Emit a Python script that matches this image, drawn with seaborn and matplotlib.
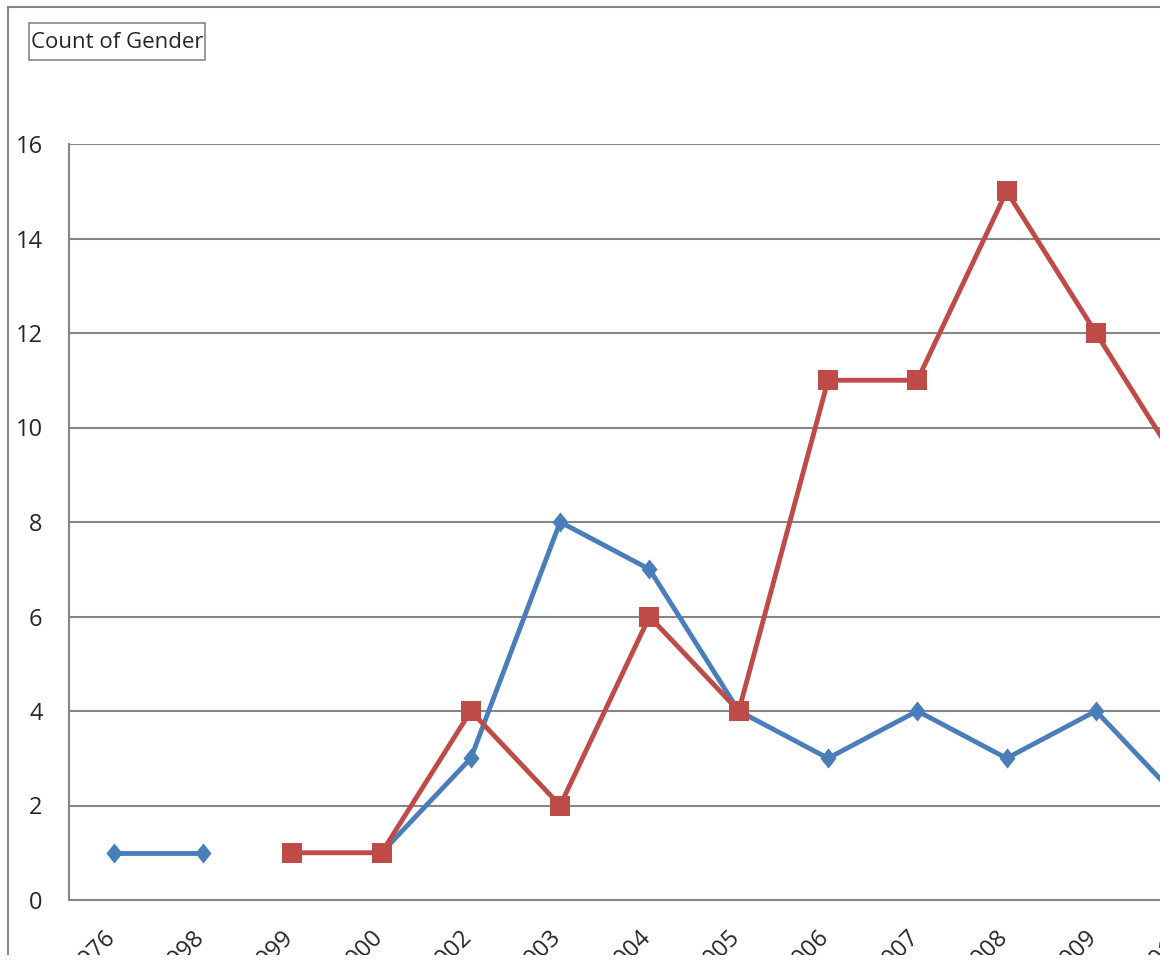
import numpy as np
import pandas as pd
import matplotlib
matplotlib.use("Agg")
import matplotlib.pyplot as plt
from matplotlib.patches import Rectangle
from matplotlib.transforms import ScaledTranslation
import seaborn as sns

# data
years = ["1976", "1998", "1999", "2000", "2002", "2003", "2004",
         "2005", "2006", "2007", "2008", "2009", "2010"]
blue_vals = [1, 1, np.nan, 1, 3, 8, 7, 4, 3, 4, 3, 4, 2]
red_vals = [np.nan, np.nan, 1, 1, 4, 2, 6, 4, 11, 11, 15, 12, 9]
series_names = ["F", "M"]
yticks = [0, 2, 4, 6, 8, 10, 12, 14, 16]

# long form, with a segment id so gaps stay gaps
rows = []
seg = 0
for name, vals in zip(series_names, [blue_vals, red_vals]):
    prev_nan = True
    for i, v in enumerate(vals):
        if np.isnan(v):
            prev_nan = True
            continue
        if prev_nan:
            seg += 1
            prev_nan = False
        rows.append({"pos": i, "count": v, "series": name, "seg": seg})
df = pd.DataFrame(rows)

sns.set_style("white")
plt.rcParams["font.family"] = ["Open Sans", "DejaVu Sans"]

W, H = 1172, 973
fig = plt.figure(figsize=(W / 100, H / 100), dpi=100)
# plot area: x from 69px, 89.3px per category, y0 at 900px, y16 at 144px
left, right, top, bottom = 69, 69 + 13 * 89.3, 144, 900
ax = fig.add_axes([left / W, (H - bottom) / H, (right - left) / W, (bottom - top) / H])

grey = "#868686"
diamond = [(0, 1), (0.8, 0), (0, -1), (-0.8, 0), (0, 1)]
sns.lineplot(data=df, x="pos", y="count", hue="series", style="series",
             units="seg", estimator=None, hue_order=series_names,
             palette={"F": "#4A7EBB", "M": "#BE4B48"},
             markers={"F": diamond, "M": "s"}, dashes=False,
             linewidth=3.5, markersize=14.5, markeredgewidth=0,
             legend=False, ax=ax, zorder=3)

ax.set_xlim(-0.5, 12.5)
ax.set_ylim(0, 16)
ax.set_yticks(yticks)
ax.set_yticklabels([str(t) for t in yticks])
ax.yaxis.grid(True, color=grey, linewidth=1.5)
ax.set_axisbelow(True)

# tick marks between categories, labels at centres
ax.set_xticks(np.arange(-0.5, 13, 1))
ax.set_xticklabels([])
ax.set_xticks(np.arange(len(years)), minor=True)
ax.set_xticklabels(years, minor=True, rotation=45, ha="right", va="center",
                   rotation_mode="anchor", fontsize=17)
ax.tick_params(axis="x", which="major", length=6, width=1.5, color=grey, direction="out")
ax.tick_params(axis="x", which="minor", length=0, pad=24)
ax.tick_params(axis="y", length=6, width=1.5, color=grey, direction="out",
               pad=13, labelsize=17)
shift = ScaledTranslation(-2 / 100, 0, fig.dpi_scale_trans)
for lab in ax.get_xticklabels(minor=True):
    lab.set_transform(lab.get_transform() + shift)
ax.set_xlabel("")
ax.set_ylabel("")

for s in ["top", "right"]:
    ax.spines[s].set_visible(False)
for s in ["left", "bottom"]:
    ax.spines[s].set_color(grey)
    ax.spines[s].set_linewidth(1.5)

# outer chart border
fig.patches.append(Rectangle((8 / W, -0.1), 1.2, 1.1 - 7 / H, transform=fig.transFigure,
                             fill=False, edgecolor=grey, linewidth=1.5, zorder=5))

# title box
fig.patches.append(Rectangle((29 / W, 1 - 60 / H), 176 / W, 37 / H, transform=fig.transFigure,
                             facecolor="white", edgecolor=grey, linewidth=1.2, zorder=6))
fig.text(31 / W, 1 - 43 / H, "Count of Gender", fontsize=16, ha="left", va="center",
         zorder=7)

# the picture is cropped on the right and bottom
fig.patches.append(Rectangle((1160 / W, 0), 1, 1, transform=fig.transFigure,
                             facecolor="white", edgecolor="none", zorder=10))
fig.patches.append(Rectangle((0, 0), 1, (H - 955) / H, transform=fig.transFigure,
                             facecolor="white", edgecolor="none", zorder=10))

fig.savefig("out.png", dpi=100)
